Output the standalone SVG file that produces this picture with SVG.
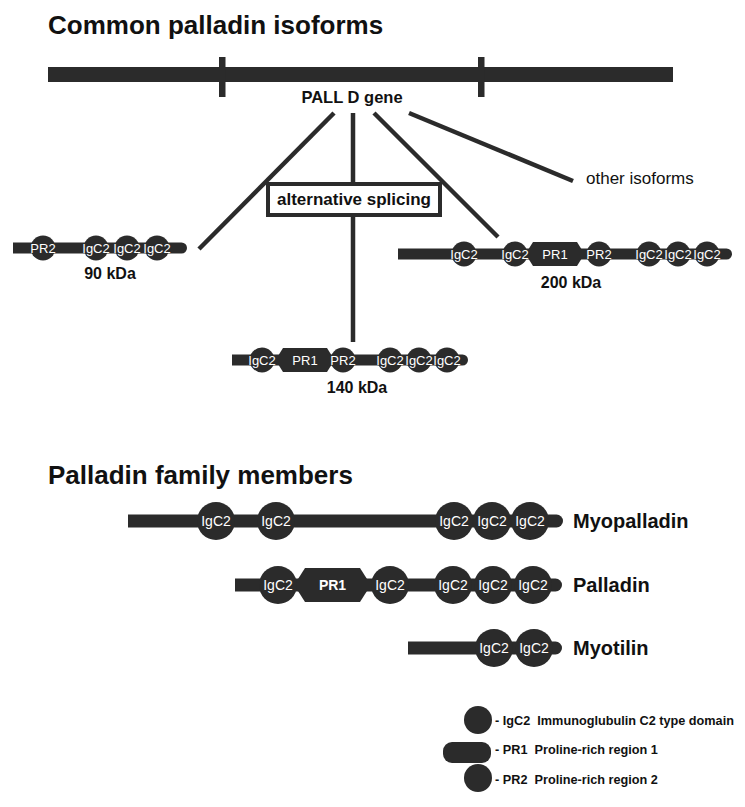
<svg xmlns="http://www.w3.org/2000/svg" width="745" height="807" viewBox="0 0 745 807">
<style>
.d{fill:#2b2b2b}
.t{font-family:"Liberation Sans",Arial,Helvetica,sans-serif;fill:#111}
.b{font-weight:bold}
.h{font-size:26px;font-weight:bold}
.lbl{font-size:16px;font-weight:bold;text-anchor:middle}
.fam{font-size:20px;font-weight:bold}
.w{font-family:"Liberation Sans",Arial,Helvetica,sans-serif;fill:#fff;text-anchor:middle;font-size:13px}
.wf{font-family:"Liberation Sans",Arial,Helvetica,sans-serif;fill:#fff;text-anchor:middle;font-size:14px}
.leg{font-size:12.7px;font-weight:bold;white-space:pre}
.ln{stroke:#2b2b2b;stroke-width:4.5;fill:none}
</style>
<rect width="745" height="807" fill="#fff"/>

<text class="t h" x="48" y="34">Common palladin isoforms</text>
<text class="t h" x="48" y="484">Palladin family members</text>

<g id="connectors">
<line class="ln" x1="334" y1="113" x2="199" y2="249"/>
<line class="ln" x1="353" y1="113" x2="353" y2="342"/>
<line class="ln" x1="374" y1="113" x2="498" y2="237"/>
<line class="ln" x1="409" y1="113" x2="573" y2="181"/>
</g>

<g id="gene">
<rect class="d" x="48" y="67" width="625" height="15"/>
<rect class="d" x="219" y="57" width="6.5" height="40"/>
<rect class="d" x="478" y="57" width="6.5" height="40"/>
<text class="t b" x="352" y="103" font-size="16.5" text-anchor="middle">PALL D gene</text>
</g>

<g id="splicing">
<rect x="268" y="184" width="172" height="31" fill="#fff" stroke="#2b2b2b" stroke-width="4"/>
<text class="t b" x="354" y="205" font-size="17" text-anchor="middle">alternative splicing</text>
</g>

<g id="other">
<text class="t" x="586" y="184" font-size="17">other isoforms</text>
</g>

<g id="iso90">
<path class="d" d="M13,242.5 H181.5 A5.5,5.5 0 0 1 181.5,253.5 H13 Z"/>
<circle class="d" cx="43" cy="248" r="12.5"/>
<circle class="d" cx="96" cy="248" r="12.5"/>
<circle class="d" cx="127" cy="248" r="12.5"/>
<circle class="d" cx="157" cy="248" r="12.5"/>
<text class="w" x="43" y="252.6">PR2</text>
<text class="w" x="96" y="252.6">IgC2</text>
<text class="w" x="127" y="252.6">IgC2</text>
<text class="w" x="157" y="252.6">IgC2</text>
<text class="t lbl" x="110" y="279">90 kDa</text>
</g>

<g id="iso140">
<path class="d" d="M232,354.5 H462.5 A5.5,5.5 0 0 1 462.5,365.5 H232 Z"/>
<circle class="d" cx="262" cy="360" r="12.5"/>
<path class="d" d="M283,348 H327 L332,356 V364 L327,372 H283 L278,364 V356 Z"/>
<circle class="d" cx="343" cy="360" r="12.5"/>
<circle class="d" cx="390" cy="360" r="12.5"/>
<circle class="d" cx="419" cy="360" r="12.5"/>
<circle class="d" cx="447" cy="360" r="12.5"/>
<text class="w" x="262" y="364.6">IgC2</text>
<text class="w" x="305" y="364.6">PR1</text>
<text class="w" x="343" y="364.6">PR2</text>
<text class="w" x="390" y="364.6">IgC2</text>
<text class="w" x="419" y="364.6">IgC2</text>
<text class="w" x="447" y="364.6">IgC2</text>
<text class="t lbl" x="357" y="393">140 kDa</text>
</g>

<g id="iso200">
<path class="d" d="M398,248.5 H726.5 A5.5,5.5 0 0 1 726.5,259.5 H398 Z"/>
<circle class="d" cx="464" cy="254" r="12.5"/>
<circle class="d" cx="515" cy="254" r="12.5"/>
<path class="d" d="M533,242 H577 L582,250 V258 L577,266 H533 L528,258 V250 Z"/>
<circle class="d" cx="599" cy="254" r="12.5"/>
<circle class="d" cx="649" cy="254" r="12.5"/>
<circle class="d" cx="678" cy="254" r="12.5"/>
<circle class="d" cx="707" cy="254" r="12.5"/>
<text class="w" x="464" y="258.6">IgC2</text>
<text class="w" x="515" y="258.6">IgC2</text>
<text class="w" x="555" y="258.6">PR1</text>
<text class="w" x="599" y="258.6">PR2</text>
<text class="w" x="649" y="258.6">IgC2</text>
<text class="w" x="678" y="258.6">IgC2</text>
<text class="w" x="707" y="258.6">IgC2</text>
<text class="t lbl" x="571" y="288">200 kDa</text>
</g>

<g id="myopalladin">
<path class="d" d="M128,514.5 H556.5 A6.5,6.5 0 0 1 556.5,527.5 H128 Z"/>
<circle class="d" cx="216" cy="521" r="19"/>
<circle class="d" cx="276" cy="521" r="19"/>
<circle class="d" cx="454" cy="521" r="19"/>
<circle class="d" cx="492" cy="521" r="19"/>
<circle class="d" cx="530" cy="521" r="19"/>
<text class="wf" x="216" y="526">IgC2</text>
<text class="wf" x="276" y="526">IgC2</text>
<text class="wf" x="454" y="526">IgC2</text>
<text class="wf" x="492" y="526">IgC2</text>
<text class="wf" x="530" y="526">IgC2</text>
<text class="t fam" x="573" y="528">Myopalladin</text>
</g>

<g id="palladin">
<path class="d" d="M235,578.5 H555.5 A6.5,6.5 0 0 1 555.5,591.5 H235 Z"/>
<circle class="d" cx="278" cy="585" r="19"/>
<path class="d" d="M305,568 H360 L367,579 V591 L360,602 H305 L298,591 V579 Z"/>
<circle class="d" cx="390" cy="585" r="19"/>
<circle class="d" cx="453" cy="585" r="19"/>
<circle class="d" cx="493" cy="585" r="19"/>
<circle class="d" cx="533" cy="585" r="19"/>
<text class="wf" x="278" y="590">IgC2</text>
<text class="wf" x="332.5" y="590" font-weight="bold">PR1</text>
<text class="wf" x="390" y="590">IgC2</text>
<text class="wf" x="453" y="590">IgC2</text>
<text class="wf" x="493" y="590">IgC2</text>
<text class="wf" x="533" y="590">IgC2</text>
<text class="t fam" x="573" y="592">Palladin</text>
</g>

<g id="myotilin">
<path class="d" d="M408,641.5 H555.5 A6.5,6.5 0 0 1 555.5,654.5 H408 Z"/>
<circle class="d" cx="494" cy="648" r="19"/>
<circle class="d" cx="534" cy="648" r="19"/>
<text class="wf" x="494" y="653">IgC2</text>
<text class="wf" x="534" y="653">IgC2</text>
<text class="t fam" x="573" y="655">Myotilin</text>
</g>

<g id="legend">
<circle class="d" cx="478" cy="720" r="14"/>
<rect class="d" x="443" y="742" width="48" height="21" rx="9"/>
<circle class="d" cx="478" cy="778" r="14"/>
<text class="t leg" x="495" y="725">- IgC2  Immunoglubulin C2 type domain</text>
<text class="t leg" x="495" y="754">- PR1  Proline-rich region 1</text>
<text class="t leg" x="495" y="784">- PR2  Proline-rich region 2</text>
</g>
</svg>
